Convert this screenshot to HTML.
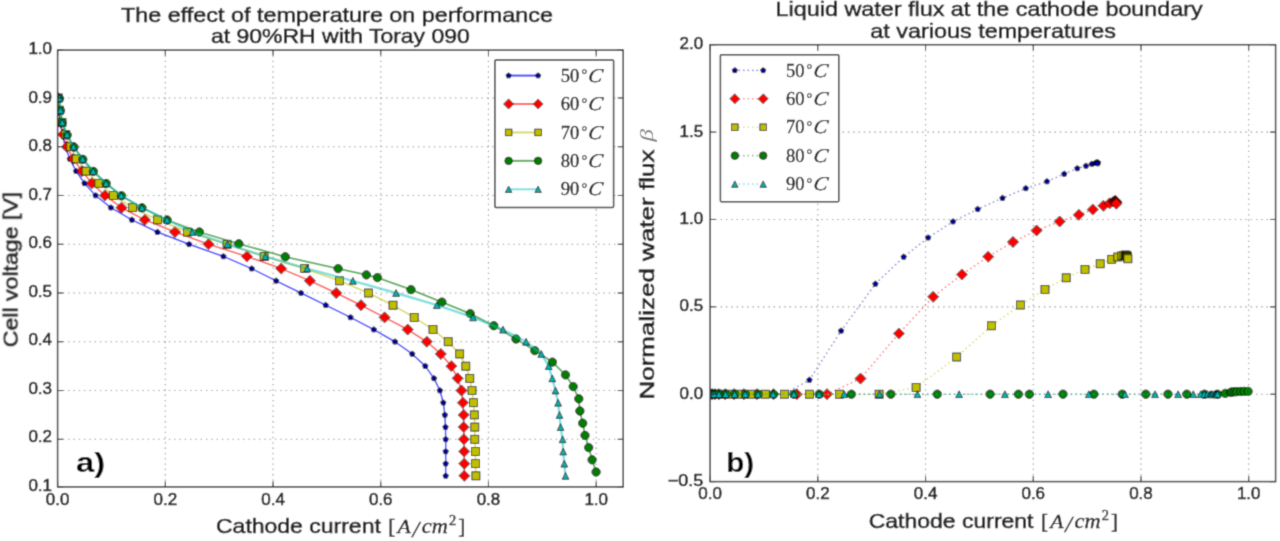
<!DOCTYPE html>
<html><head><meta charset="utf-8"><title>chart</title>
<style>
html,body{margin:0;padding:0;background:#fff;}
body{width:1280px;height:541px;overflow:hidden;}
svg{display:block;}
</style></head><body>
<svg width="1280" height="541" viewBox="0 0 1280 541">
<defs><filter id="bl" x="0" y="0" width="1280" height="541" filterUnits="userSpaceOnUse"><feConvolveMatrix order="3" kernelMatrix="0.02768 0.11101 0.02768 0.11101 0.44521 0.11101 0.02768 0.11101 0.02768" divisor="1" edgeMode="duplicate"/></filter></defs>
<g filter="url(#bl)">
<rect width="1280" height="541" fill="#fff"/>
<defs><clipPath id="cl"><rect x="57.6" y="50.1" width="565.6" height="436.8"/></clipPath><clipPath id="cr"><rect x="710.1" y="44.7" width="565.5" height="436.9"/></clipPath></defs>
<g stroke="#8a8a8a" stroke-width="1.1" stroke-dasharray="1.3 4.0"><line x1="165.32" y1="50.1" x2="165.32" y2="486.9"/><line x1="273.04" y1="50.1" x2="273.04" y2="486.9"/><line x1="380.76" y1="50.1" x2="380.76" y2="486.9"/><line x1="488.48" y1="50.1" x2="488.48" y2="486.9"/><line x1="596.2" y1="50.1" x2="596.2" y2="486.9"/><line x1="57.6" y1="439.28" x2="623.2" y2="439.28"/><line x1="57.6" y1="390.52" x2="623.2" y2="390.52"/><line x1="57.6" y1="341.76" x2="623.2" y2="341.76"/><line x1="57.6" y1="293" x2="623.2" y2="293"/><line x1="57.6" y1="244.24" x2="623.2" y2="244.24"/><line x1="57.6" y1="195.48" x2="623.2" y2="195.48"/><line x1="57.6" y1="146.72" x2="623.2" y2="146.72"/><line x1="57.6" y1="97.96" x2="623.2" y2="97.96"/></g>
<g clip-path="url(#cl)">
<polyline points="58,97.96 58.8,110.15 60.2,122.34 62.3,134.53 65.3,146.72 69.8,158.91 76.1,171.1 84.5,183.29 95.6,195.48 110.9,207.67 131.9,219.86 157.4,232.05 189.1,244.24 223.4,256.43 251.7,268.62 276.1,280.81 301,293 325.7,305.19 350.5,317.38 373.8,329.57 395,341.76 412.2,353.95 425.3,366.14 434,378.33 439.9,390.52 443.3,402.71 444.9,414.9 445.5,427.09 445.7,439.28 445.7,451.47 445.7,463.66 445.7,475.85" fill="none" stroke="#0000ff" stroke-opacity="0.75" stroke-width="1.5" stroke-linejoin="round"/>
<polygon points="58,95.06 60.76,97.06 59.7,100.31 56.3,100.31 55.24,97.06" fill="#0000a0" stroke="#000" stroke-width="0.75"/><polygon points="58.8,107.25 61.56,109.25 60.5,112.5 57.1,112.5 56.04,109.25" fill="#0000a0" stroke="#000" stroke-width="0.75"/><polygon points="60.2,119.44 62.96,121.44 61.9,124.69 58.5,124.69 57.44,121.44" fill="#0000a0" stroke="#000" stroke-width="0.75"/><polygon points="62.3,131.63 65.06,133.63 64,136.88 60.6,136.88 59.54,133.63" fill="#0000a0" stroke="#000" stroke-width="0.75"/><polygon points="65.3,143.82 68.06,145.82 67,149.07 63.6,149.07 62.54,145.82" fill="#0000a0" stroke="#000" stroke-width="0.75"/><polygon points="69.8,156.01 72.56,158.01 71.5,161.26 68.1,161.26 67.04,158.01" fill="#0000a0" stroke="#000" stroke-width="0.75"/><polygon points="76.1,168.2 78.86,170.2 77.8,173.45 74.4,173.45 73.34,170.2" fill="#0000a0" stroke="#000" stroke-width="0.75"/><polygon points="84.5,180.39 87.26,182.39 86.2,185.64 82.8,185.64 81.74,182.39" fill="#0000a0" stroke="#000" stroke-width="0.75"/><polygon points="95.6,192.58 98.36,194.58 97.3,197.83 93.9,197.83 92.84,194.58" fill="#0000a0" stroke="#000" stroke-width="0.75"/><polygon points="110.9,204.77 113.66,206.77 112.6,210.02 109.2,210.02 108.14,206.77" fill="#0000a0" stroke="#000" stroke-width="0.75"/><polygon points="131.9,216.96 134.66,218.96 133.6,222.21 130.2,222.21 129.14,218.96" fill="#0000a0" stroke="#000" stroke-width="0.75"/><polygon points="157.4,229.15 160.16,231.15 159.1,234.4 155.7,234.4 154.64,231.15" fill="#0000a0" stroke="#000" stroke-width="0.75"/><polygon points="189.1,241.34 191.86,243.34 190.8,246.59 187.4,246.59 186.34,243.34" fill="#0000a0" stroke="#000" stroke-width="0.75"/><polygon points="223.4,253.53 226.16,255.53 225.1,258.78 221.7,258.78 220.64,255.53" fill="#0000a0" stroke="#000" stroke-width="0.75"/><polygon points="251.7,265.72 254.46,267.72 253.4,270.97 250,270.97 248.94,267.72" fill="#0000a0" stroke="#000" stroke-width="0.75"/><polygon points="276.1,277.91 278.86,279.91 277.8,283.16 274.4,283.16 273.34,279.91" fill="#0000a0" stroke="#000" stroke-width="0.75"/><polygon points="301,290.1 303.76,292.1 302.7,295.35 299.3,295.35 298.24,292.1" fill="#0000a0" stroke="#000" stroke-width="0.75"/><polygon points="325.7,302.29 328.46,304.29 327.4,307.54 324,307.54 322.94,304.29" fill="#0000a0" stroke="#000" stroke-width="0.75"/><polygon points="350.5,314.48 353.26,316.48 352.2,319.73 348.8,319.73 347.74,316.48" fill="#0000a0" stroke="#000" stroke-width="0.75"/><polygon points="373.8,326.67 376.56,328.67 375.5,331.92 372.1,331.92 371.04,328.67" fill="#0000a0" stroke="#000" stroke-width="0.75"/><polygon points="395,338.86 397.76,340.86 396.7,344.11 393.3,344.11 392.24,340.86" fill="#0000a0" stroke="#000" stroke-width="0.75"/><polygon points="412.2,351.05 414.96,353.05 413.9,356.3 410.5,356.3 409.44,353.05" fill="#0000a0" stroke="#000" stroke-width="0.75"/><polygon points="425.3,363.24 428.06,365.24 427,368.49 423.6,368.49 422.54,365.24" fill="#0000a0" stroke="#000" stroke-width="0.75"/><polygon points="434,375.43 436.76,377.43 435.7,380.68 432.3,380.68 431.24,377.43" fill="#0000a0" stroke="#000" stroke-width="0.75"/><polygon points="439.9,387.62 442.66,389.62 441.6,392.87 438.2,392.87 437.14,389.62" fill="#0000a0" stroke="#000" stroke-width="0.75"/><polygon points="443.3,399.81 446.06,401.81 445,405.06 441.6,405.06 440.54,401.81" fill="#0000a0" stroke="#000" stroke-width="0.75"/><polygon points="444.9,412 447.66,414 446.6,417.25 443.2,417.25 442.14,414" fill="#0000a0" stroke="#000" stroke-width="0.75"/><polygon points="445.5,424.19 448.26,426.19 447.2,429.44 443.8,429.44 442.74,426.19" fill="#0000a0" stroke="#000" stroke-width="0.75"/><polygon points="445.7,436.38 448.46,438.38 447.4,441.63 444,441.63 442.94,438.38" fill="#0000a0" stroke="#000" stroke-width="0.75"/><polygon points="445.7,448.57 448.46,450.57 447.4,453.82 444,453.82 442.94,450.57" fill="#0000a0" stroke="#000" stroke-width="0.75"/><polygon points="445.7,460.76 448.46,462.76 447.4,466.01 444,466.01 442.94,462.76" fill="#0000a0" stroke="#000" stroke-width="0.75"/><polygon points="445.7,472.95 448.46,474.95 447.4,478.2 444,478.2 442.94,474.95" fill="#0000a0" stroke="#000" stroke-width="0.75"/>
<polyline points="58,97.96 58.8,110.15 60.5,122.34 63,134.53 66.8,146.72 73.2,158.91 82,171.1 91.8,183.29 104.9,195.48 121.5,207.67 144.8,219.86 175,232.05 208.5,244.24 246.9,256.43 281.2,268.62 309.9,280.81 336.2,293 361,305.19 384.6,317.38 407.7,329.57 426.8,341.76 440.8,353.95 451.4,366.14 457.7,378.33 461.5,390.52 462.9,402.71 463.7,414.9 463.7,427.09 463.9,439.28 464.2,451.47 464.3,463.66 464.3,475.85" fill="none" stroke="#ff0000" stroke-opacity="0.65" stroke-width="1.6" stroke-linejoin="round"/>
<polygon points="58,92.46 63.5,97.96 58,103.46 52.5,97.96" fill="#ff0000" stroke="#000" stroke-width="0.75"/><polygon points="58.8,104.65 64.3,110.15 58.8,115.65 53.3,110.15" fill="#ff0000" stroke="#000" stroke-width="0.75"/><polygon points="60.5,116.84 66,122.34 60.5,127.84 55,122.34" fill="#ff0000" stroke="#000" stroke-width="0.75"/><polygon points="63,129.03 68.5,134.53 63,140.03 57.5,134.53" fill="#ff0000" stroke="#000" stroke-width="0.75"/><polygon points="66.8,141.22 72.3,146.72 66.8,152.22 61.3,146.72" fill="#ff0000" stroke="#000" stroke-width="0.75"/><polygon points="73.2,153.41 78.7,158.91 73.2,164.41 67.7,158.91" fill="#ff0000" stroke="#000" stroke-width="0.75"/><polygon points="82,165.6 87.5,171.1 82,176.6 76.5,171.1" fill="#ff0000" stroke="#000" stroke-width="0.75"/><polygon points="91.8,177.79 97.3,183.29 91.8,188.79 86.3,183.29" fill="#ff0000" stroke="#000" stroke-width="0.75"/><polygon points="104.9,189.98 110.4,195.48 104.9,200.98 99.4,195.48" fill="#ff0000" stroke="#000" stroke-width="0.75"/><polygon points="121.5,202.17 127,207.67 121.5,213.17 116,207.67" fill="#ff0000" stroke="#000" stroke-width="0.75"/><polygon points="144.8,214.36 150.3,219.86 144.8,225.36 139.3,219.86" fill="#ff0000" stroke="#000" stroke-width="0.75"/><polygon points="175,226.55 180.5,232.05 175,237.55 169.5,232.05" fill="#ff0000" stroke="#000" stroke-width="0.75"/><polygon points="208.5,238.74 214,244.24 208.5,249.74 203,244.24" fill="#ff0000" stroke="#000" stroke-width="0.75"/><polygon points="246.9,250.93 252.4,256.43 246.9,261.93 241.4,256.43" fill="#ff0000" stroke="#000" stroke-width="0.75"/><polygon points="281.2,263.12 286.7,268.62 281.2,274.12 275.7,268.62" fill="#ff0000" stroke="#000" stroke-width="0.75"/><polygon points="309.9,275.31 315.4,280.81 309.9,286.31 304.4,280.81" fill="#ff0000" stroke="#000" stroke-width="0.75"/><polygon points="336.2,287.5 341.7,293 336.2,298.5 330.7,293" fill="#ff0000" stroke="#000" stroke-width="0.75"/><polygon points="361,299.69 366.5,305.19 361,310.69 355.5,305.19" fill="#ff0000" stroke="#000" stroke-width="0.75"/><polygon points="384.6,311.88 390.1,317.38 384.6,322.88 379.1,317.38" fill="#ff0000" stroke="#000" stroke-width="0.75"/><polygon points="407.7,324.07 413.2,329.57 407.7,335.07 402.2,329.57" fill="#ff0000" stroke="#000" stroke-width="0.75"/><polygon points="426.8,336.26 432.3,341.76 426.8,347.26 421.3,341.76" fill="#ff0000" stroke="#000" stroke-width="0.75"/><polygon points="440.8,348.45 446.3,353.95 440.8,359.45 435.3,353.95" fill="#ff0000" stroke="#000" stroke-width="0.75"/><polygon points="451.4,360.64 456.9,366.14 451.4,371.64 445.9,366.14" fill="#ff0000" stroke="#000" stroke-width="0.75"/><polygon points="457.7,372.83 463.2,378.33 457.7,383.83 452.2,378.33" fill="#ff0000" stroke="#000" stroke-width="0.75"/><polygon points="461.5,385.02 467,390.52 461.5,396.02 456,390.52" fill="#ff0000" stroke="#000" stroke-width="0.75"/><polygon points="462.9,397.21 468.4,402.71 462.9,408.21 457.4,402.71" fill="#ff0000" stroke="#000" stroke-width="0.75"/><polygon points="463.7,409.4 469.2,414.9 463.7,420.4 458.2,414.9" fill="#ff0000" stroke="#000" stroke-width="0.75"/><polygon points="463.7,421.59 469.2,427.09 463.7,432.59 458.2,427.09" fill="#ff0000" stroke="#000" stroke-width="0.75"/><polygon points="463.9,433.78 469.4,439.28 463.9,444.78 458.4,439.28" fill="#ff0000" stroke="#000" stroke-width="0.75"/><polygon points="464.2,445.97 469.7,451.47 464.2,456.97 458.7,451.47" fill="#ff0000" stroke="#000" stroke-width="0.75"/><polygon points="464.3,458.16 469.8,463.66 464.3,469.16 458.8,463.66" fill="#ff0000" stroke="#000" stroke-width="0.75"/><polygon points="464.3,470.35 469.8,475.85 464.3,481.35 458.8,475.85" fill="#ff0000" stroke="#000" stroke-width="0.75"/>
<polyline points="58.3,97.96 59.5,110.15 62,122.34 65.8,134.53 70.8,146.72 76.6,158.91 86.1,171.1 98.9,183.29 113.3,195.48 132.6,207.67 157.4,219.86 187.6,232.05 227.1,244.24 264.1,256.43 304.7,268.62 339.5,280.81 368.4,293 393,305.19 414.2,317.38 433,329.57 448.2,341.76 459.7,353.95 465.8,366.14 469.8,378.33 472,390.52 473.4,402.71 474.3,414.9 474.8,427.09 474.8,439.28 475.4,451.47 475.4,463.66 475.9,475.85" fill="none" stroke="#bfbf00" stroke-opacity="0.6" stroke-width="1.6" stroke-linejoin="round"/>
<rect x="54.3" y="93.96" width="8" height="8" fill="#bfbf00" stroke="#000" stroke-width="0.75"/><rect x="55.5" y="106.15" width="8" height="8" fill="#bfbf00" stroke="#000" stroke-width="0.75"/><rect x="58" y="118.34" width="8" height="8" fill="#bfbf00" stroke="#000" stroke-width="0.75"/><rect x="61.8" y="130.53" width="8" height="8" fill="#bfbf00" stroke="#000" stroke-width="0.75"/><rect x="66.8" y="142.72" width="8" height="8" fill="#bfbf00" stroke="#000" stroke-width="0.75"/><rect x="72.6" y="154.91" width="8" height="8" fill="#bfbf00" stroke="#000" stroke-width="0.75"/><rect x="82.1" y="167.1" width="8" height="8" fill="#bfbf00" stroke="#000" stroke-width="0.75"/><rect x="94.9" y="179.29" width="8" height="8" fill="#bfbf00" stroke="#000" stroke-width="0.75"/><rect x="109.3" y="191.48" width="8" height="8" fill="#bfbf00" stroke="#000" stroke-width="0.75"/><rect x="128.6" y="203.67" width="8" height="8" fill="#bfbf00" stroke="#000" stroke-width="0.75"/><rect x="153.4" y="215.86" width="8" height="8" fill="#bfbf00" stroke="#000" stroke-width="0.75"/><rect x="183.6" y="228.05" width="8" height="8" fill="#bfbf00" stroke="#000" stroke-width="0.75"/><rect x="223.1" y="240.24" width="8" height="8" fill="#bfbf00" stroke="#000" stroke-width="0.75"/><rect x="260.1" y="252.43" width="8" height="8" fill="#bfbf00" stroke="#000" stroke-width="0.75"/><rect x="300.7" y="264.62" width="8" height="8" fill="#bfbf00" stroke="#000" stroke-width="0.75"/><rect x="335.5" y="276.81" width="8" height="8" fill="#bfbf00" stroke="#000" stroke-width="0.75"/><rect x="364.4" y="289" width="8" height="8" fill="#bfbf00" stroke="#000" stroke-width="0.75"/><rect x="389" y="301.19" width="8" height="8" fill="#bfbf00" stroke="#000" stroke-width="0.75"/><rect x="410.2" y="313.38" width="8" height="8" fill="#bfbf00" stroke="#000" stroke-width="0.75"/><rect x="429" y="325.57" width="8" height="8" fill="#bfbf00" stroke="#000" stroke-width="0.75"/><rect x="444.2" y="337.76" width="8" height="8" fill="#bfbf00" stroke="#000" stroke-width="0.75"/><rect x="455.7" y="349.95" width="8" height="8" fill="#bfbf00" stroke="#000" stroke-width="0.75"/><rect x="461.8" y="362.14" width="8" height="8" fill="#bfbf00" stroke="#000" stroke-width="0.75"/><rect x="465.8" y="374.33" width="8" height="8" fill="#bfbf00" stroke="#000" stroke-width="0.75"/><rect x="468" y="386.52" width="8" height="8" fill="#bfbf00" stroke="#000" stroke-width="0.75"/><rect x="469.4" y="398.71" width="8" height="8" fill="#bfbf00" stroke="#000" stroke-width="0.75"/><rect x="470.3" y="410.9" width="8" height="8" fill="#bfbf00" stroke="#000" stroke-width="0.75"/><rect x="470.8" y="423.09" width="8" height="8" fill="#bfbf00" stroke="#000" stroke-width="0.75"/><rect x="470.8" y="435.28" width="8" height="8" fill="#bfbf00" stroke="#000" stroke-width="0.75"/><rect x="471.4" y="447.47" width="8" height="8" fill="#bfbf00" stroke="#000" stroke-width="0.75"/><rect x="471.4" y="459.66" width="8" height="8" fill="#bfbf00" stroke="#000" stroke-width="0.75"/><rect x="471.9" y="471.85" width="8" height="8" fill="#bfbf00" stroke="#000" stroke-width="0.75"/>
<polyline points="59.5,98.6 60.5,110.7 62.2,122.8 67.2,135 74,147.1 82.8,159.3 93.4,171.4 106.2,183.5 121.5,195.7 142,207.8 167.2,220 199.4,232 238.8,243.8 285.3,256.8 338.1,268.6 366.4,274.9 377.4,277.6 411,289.6 441.9,302.1 470.2,313.6 493.8,325.7 516,339 534.8,350.6 552.4,362.1 565.5,374.9 573.2,386.6 578.8,398.8 579.9,411 582.7,423.2 585,435.4 588.7,447.6 592.1,459.8 596.1,472" fill="none" stroke="#008000" stroke-opacity="0.65" stroke-width="1.8" stroke-linejoin="round"/>
<circle cx="59.5" cy="98.6" r="4.2" fill="#008000" stroke="#000" stroke-width="0.75"/><circle cx="60.5" cy="110.7" r="4.2" fill="#008000" stroke="#000" stroke-width="0.75"/><circle cx="62.2" cy="122.8" r="4.2" fill="#008000" stroke="#000" stroke-width="0.75"/><circle cx="67.2" cy="135" r="4.2" fill="#008000" stroke="#000" stroke-width="0.75"/><circle cx="74" cy="147.1" r="4.2" fill="#008000" stroke="#000" stroke-width="0.75"/><circle cx="82.8" cy="159.3" r="4.2" fill="#008000" stroke="#000" stroke-width="0.75"/><circle cx="93.4" cy="171.4" r="4.2" fill="#008000" stroke="#000" stroke-width="0.75"/><circle cx="106.2" cy="183.5" r="4.2" fill="#008000" stroke="#000" stroke-width="0.75"/><circle cx="121.5" cy="195.7" r="4.2" fill="#008000" stroke="#000" stroke-width="0.75"/><circle cx="142" cy="207.8" r="4.2" fill="#008000" stroke="#000" stroke-width="0.75"/><circle cx="167.2" cy="220" r="4.2" fill="#008000" stroke="#000" stroke-width="0.75"/><circle cx="199.4" cy="232" r="4.2" fill="#008000" stroke="#000" stroke-width="0.75"/><circle cx="238.8" cy="243.8" r="4.2" fill="#008000" stroke="#000" stroke-width="0.75"/><circle cx="285.3" cy="256.8" r="4.2" fill="#008000" stroke="#000" stroke-width="0.75"/><circle cx="338.1" cy="268.6" r="4.2" fill="#008000" stroke="#000" stroke-width="0.75"/><circle cx="366.4" cy="274.9" r="4.2" fill="#008000" stroke="#000" stroke-width="0.75"/><circle cx="377.4" cy="277.6" r="4.2" fill="#008000" stroke="#000" stroke-width="0.75"/><circle cx="411" cy="289.6" r="4.2" fill="#008000" stroke="#000" stroke-width="0.75"/><circle cx="441.9" cy="302.1" r="4.2" fill="#008000" stroke="#000" stroke-width="0.75"/><circle cx="470.2" cy="313.6" r="4.2" fill="#008000" stroke="#000" stroke-width="0.75"/><circle cx="493.8" cy="325.7" r="4.2" fill="#008000" stroke="#000" stroke-width="0.75"/><circle cx="516" cy="339" r="4.2" fill="#008000" stroke="#000" stroke-width="0.75"/><circle cx="534.8" cy="350.6" r="4.2" fill="#008000" stroke="#000" stroke-width="0.75"/><circle cx="552.4" cy="362.1" r="4.2" fill="#008000" stroke="#000" stroke-width="0.75"/><circle cx="565.5" cy="374.9" r="4.2" fill="#008000" stroke="#000" stroke-width="0.75"/><circle cx="573.2" cy="386.6" r="4.2" fill="#008000" stroke="#000" stroke-width="0.75"/><circle cx="578.8" cy="398.8" r="4.2" fill="#008000" stroke="#000" stroke-width="0.75"/><circle cx="579.9" cy="411" r="4.2" fill="#008000" stroke="#000" stroke-width="0.75"/><circle cx="582.7" cy="423.2" r="4.2" fill="#008000" stroke="#000" stroke-width="0.75"/><circle cx="585" cy="435.4" r="4.2" fill="#008000" stroke="#000" stroke-width="0.75"/><circle cx="588.7" cy="447.6" r="4.2" fill="#008000" stroke="#000" stroke-width="0.75"/><circle cx="592.1" cy="459.8" r="4.2" fill="#008000" stroke="#000" stroke-width="0.75"/><circle cx="596.1" cy="472" r="4.2" fill="#008000" stroke="#000" stroke-width="0.75"/>
<polyline points="59.5,97.96 60.5,110.15 62.2,122.34 67,134.53 73.6,146.72 82.6,158.91 93.2,171.1 106,183.29 121.1,195.48 141.9,207.67 167,219.86 192.3,232.05 227.5,244.24 265.4,256.43 307.1,268.62 352.9,280.81 396.1,293 436.8,305.19 473,317.38 503,329.57 526.1,341.76 541.3,353.95 548.7,366.14 552.3,378.33 555.5,390.52 558.1,402.71 559.5,414.9 560.6,427.09 562.6,439.28 563.2,451.47 564.3,463.66 565.5,475.85" fill="none" stroke="#00bfbf" stroke-opacity="0.5" stroke-width="2.4" stroke-linejoin="round"/>
<polygon points="59.5,94.56 62.9,101.36 56.1,101.36" fill="#00b4b4" stroke="#000" stroke-width="0.75"/><polygon points="60.5,106.75 63.9,113.55 57.1,113.55" fill="#00b4b4" stroke="#000" stroke-width="0.75"/><polygon points="62.2,118.94 65.6,125.74 58.8,125.74" fill="#00b4b4" stroke="#000" stroke-width="0.75"/><polygon points="67,131.13 70.4,137.93 63.6,137.93" fill="#00b4b4" stroke="#000" stroke-width="0.75"/><polygon points="73.6,143.32 77,150.12 70.2,150.12" fill="#00b4b4" stroke="#000" stroke-width="0.75"/><polygon points="82.6,155.51 86,162.31 79.2,162.31" fill="#00b4b4" stroke="#000" stroke-width="0.75"/><polygon points="93.2,167.7 96.6,174.5 89.8,174.5" fill="#00b4b4" stroke="#000" stroke-width="0.75"/><polygon points="106,179.89 109.4,186.69 102.6,186.69" fill="#00b4b4" stroke="#000" stroke-width="0.75"/><polygon points="121.1,192.08 124.5,198.88 117.7,198.88" fill="#00b4b4" stroke="#000" stroke-width="0.75"/><polygon points="141.9,204.27 145.3,211.07 138.5,211.07" fill="#00b4b4" stroke="#000" stroke-width="0.75"/><polygon points="167,216.46 170.4,223.26 163.6,223.26" fill="#00b4b4" stroke="#000" stroke-width="0.75"/><polygon points="192.3,228.65 195.7,235.45 188.9,235.45" fill="#00b4b4" stroke="#000" stroke-width="0.75"/><polygon points="227.5,240.84 230.9,247.64 224.1,247.64" fill="#00b4b4" stroke="#000" stroke-width="0.75"/><polygon points="265.4,253.03 268.8,259.83 262,259.83" fill="#00b4b4" stroke="#000" stroke-width="0.75"/><polygon points="307.1,265.22 310.5,272.02 303.7,272.02" fill="#00b4b4" stroke="#000" stroke-width="0.75"/><polygon points="352.9,277.41 356.3,284.21 349.5,284.21" fill="#00b4b4" stroke="#000" stroke-width="0.75"/><polygon points="396.1,289.6 399.5,296.4 392.7,296.4" fill="#00b4b4" stroke="#000" stroke-width="0.75"/><polygon points="436.8,301.79 440.2,308.59 433.4,308.59" fill="#00b4b4" stroke="#000" stroke-width="0.75"/><polygon points="473,313.98 476.4,320.78 469.6,320.78" fill="#00b4b4" stroke="#000" stroke-width="0.75"/><polygon points="503,326.17 506.4,332.97 499.6,332.97" fill="#00b4b4" stroke="#000" stroke-width="0.75"/><polygon points="526.1,338.36 529.5,345.16 522.7,345.16" fill="#00b4b4" stroke="#000" stroke-width="0.75"/><polygon points="541.3,350.55 544.7,357.35 537.9,357.35" fill="#00b4b4" stroke="#000" stroke-width="0.75"/><polygon points="548.7,362.74 552.1,369.54 545.3,369.54" fill="#00b4b4" stroke="#000" stroke-width="0.75"/><polygon points="552.3,374.93 555.7,381.73 548.9,381.73" fill="#00b4b4" stroke="#000" stroke-width="0.75"/><polygon points="555.5,387.12 558.9,393.92 552.1,393.92" fill="#00b4b4" stroke="#000" stroke-width="0.75"/><polygon points="558.1,399.31 561.5,406.11 554.7,406.11" fill="#00b4b4" stroke="#000" stroke-width="0.75"/><polygon points="559.5,411.5 562.9,418.3 556.1,418.3" fill="#00b4b4" stroke="#000" stroke-width="0.75"/><polygon points="560.6,423.69 564,430.49 557.2,430.49" fill="#00b4b4" stroke="#000" stroke-width="0.75"/><polygon points="562.6,435.88 566,442.68 559.2,442.68" fill="#00b4b4" stroke="#000" stroke-width="0.75"/><polygon points="563.2,448.07 566.6,454.87 559.8,454.87" fill="#00b4b4" stroke="#000" stroke-width="0.75"/><polygon points="564.3,460.26 567.7,467.06 560.9,467.06" fill="#00b4b4" stroke="#000" stroke-width="0.75"/><polygon points="565.5,472.45 568.9,479.25 562.1,479.25" fill="#00b4b4" stroke="#000" stroke-width="0.75"/>
</g>
<g stroke="#222" stroke-width="1.1"><line x1="57.6" y1="486.9" x2="57.6" y2="481.4"/><line x1="57.6" y1="50.1" x2="57.6" y2="55.6"/><line x1="165.32" y1="486.9" x2="165.32" y2="481.4"/><line x1="165.32" y1="50.1" x2="165.32" y2="55.6"/><line x1="273.04" y1="486.9" x2="273.04" y2="481.4"/><line x1="273.04" y1="50.1" x2="273.04" y2="55.6"/><line x1="380.76" y1="486.9" x2="380.76" y2="481.4"/><line x1="380.76" y1="50.1" x2="380.76" y2="55.6"/><line x1="488.48" y1="486.9" x2="488.48" y2="481.4"/><line x1="488.48" y1="50.1" x2="488.48" y2="55.6"/><line x1="596.2" y1="486.9" x2="596.2" y2="481.4"/><line x1="596.2" y1="50.1" x2="596.2" y2="55.6"/><line x1="57.6" y1="486.9" x2="63.1" y2="486.9"/><line x1="623.2" y1="486.9" x2="617.7" y2="486.9"/><line x1="57.6" y1="439.28" x2="63.1" y2="439.28"/><line x1="623.2" y1="439.28" x2="617.7" y2="439.28"/><line x1="57.6" y1="390.52" x2="63.1" y2="390.52"/><line x1="623.2" y1="390.52" x2="617.7" y2="390.52"/><line x1="57.6" y1="341.76" x2="63.1" y2="341.76"/><line x1="623.2" y1="341.76" x2="617.7" y2="341.76"/><line x1="57.6" y1="293" x2="63.1" y2="293"/><line x1="623.2" y1="293" x2="617.7" y2="293"/><line x1="57.6" y1="244.24" x2="63.1" y2="244.24"/><line x1="623.2" y1="244.24" x2="617.7" y2="244.24"/><line x1="57.6" y1="195.48" x2="63.1" y2="195.48"/><line x1="623.2" y1="195.48" x2="617.7" y2="195.48"/><line x1="57.6" y1="146.72" x2="63.1" y2="146.72"/><line x1="623.2" y1="146.72" x2="617.7" y2="146.72"/><line x1="57.6" y1="97.96" x2="63.1" y2="97.96"/><line x1="623.2" y1="97.96" x2="617.7" y2="97.96"/><line x1="57.6" y1="50.1" x2="63.1" y2="50.1"/><line x1="623.2" y1="50.1" x2="617.7" y2="50.1"/></g>
<rect x="57.6" y="50.1" width="565.6" height="436.8" fill="none" stroke="#333" stroke-width="1.5"/>
<g stroke="#8a8a8a" stroke-width="1.1" stroke-dasharray="1.3 4.0"><line x1="817.82" y1="44.7" x2="817.82" y2="481.6"/><line x1="925.54" y1="44.7" x2="925.54" y2="481.6"/><line x1="1033.26" y1="44.7" x2="1033.26" y2="481.6"/><line x1="1140.98" y1="44.7" x2="1140.98" y2="481.6"/><line x1="1248.7" y1="44.7" x2="1248.7" y2="481.6"/><line x1="710.1" y1="394.22" x2="1275.6" y2="394.22"/><line x1="710.1" y1="306.84" x2="1275.6" y2="306.84"/><line x1="710.1" y1="219.46" x2="1275.6" y2="219.46"/><line x1="710.1" y1="132.08" x2="1275.6" y2="132.08"/></g>
<g clip-path="url(#cr)">
<polyline points="710,394.2 710.8,394.2 712.2,394.2 714.3,394.2 717.3,394.2 721.8,394.2 728.1,394.2 736.5,394.2 747.6,394.2 762.9,394.2 783.9,394.2 809.4,380 841.1,330.8 875.4,283.9 903.7,256.9 928.1,237.7 953,221.6 977.7,209.2 1002.5,198.1 1025.8,188.3 1047,181.5 1064.2,173.9 1077.3,168.4 1086,165.9 1091.9,164 1095.3,163 1096.9,162.6 1097.5,162.5 1097.7,162.6 1097.7,162.8 1097.7,163.1 1097.7,163.5" fill="none" stroke="#2828b0" stroke-opacity="0.6" stroke-width="1.6" stroke-linejoin="round" stroke-dasharray="0.1 4.4" stroke-linecap="round"/>
<polygon points="710,391.3 712.76,393.3 711.7,396.55 708.3,396.55 707.24,393.3" fill="#0000a0" stroke="#000" stroke-width="0.75"/><polygon points="710.8,391.3 713.56,393.3 712.5,396.55 709.1,396.55 708.04,393.3" fill="#0000a0" stroke="#000" stroke-width="0.75"/><polygon points="712.2,391.3 714.96,393.3 713.9,396.55 710.5,396.55 709.44,393.3" fill="#0000a0" stroke="#000" stroke-width="0.75"/><polygon points="714.3,391.3 717.06,393.3 716,396.55 712.6,396.55 711.54,393.3" fill="#0000a0" stroke="#000" stroke-width="0.75"/><polygon points="717.3,391.3 720.06,393.3 719,396.55 715.6,396.55 714.54,393.3" fill="#0000a0" stroke="#000" stroke-width="0.75"/><polygon points="721.8,391.3 724.56,393.3 723.5,396.55 720.1,396.55 719.04,393.3" fill="#0000a0" stroke="#000" stroke-width="0.75"/><polygon points="728.1,391.3 730.86,393.3 729.8,396.55 726.4,396.55 725.34,393.3" fill="#0000a0" stroke="#000" stroke-width="0.75"/><polygon points="736.5,391.3 739.26,393.3 738.2,396.55 734.8,396.55 733.74,393.3" fill="#0000a0" stroke="#000" stroke-width="0.75"/><polygon points="747.6,391.3 750.36,393.3 749.3,396.55 745.9,396.55 744.84,393.3" fill="#0000a0" stroke="#000" stroke-width="0.75"/><polygon points="762.9,391.3 765.66,393.3 764.6,396.55 761.2,396.55 760.14,393.3" fill="#0000a0" stroke="#000" stroke-width="0.75"/><polygon points="783.9,391.3 786.66,393.3 785.6,396.55 782.2,396.55 781.14,393.3" fill="#0000a0" stroke="#000" stroke-width="0.75"/><polygon points="809.4,377.1 812.16,379.1 811.1,382.35 807.7,382.35 806.64,379.1" fill="#0000a0" stroke="#000" stroke-width="0.75"/><polygon points="841.1,327.9 843.86,329.9 842.8,333.15 839.4,333.15 838.34,329.9" fill="#0000a0" stroke="#000" stroke-width="0.75"/><polygon points="875.4,281 878.16,283 877.1,286.25 873.7,286.25 872.64,283" fill="#0000a0" stroke="#000" stroke-width="0.75"/><polygon points="903.7,254 906.46,256 905.4,259.25 902,259.25 900.94,256" fill="#0000a0" stroke="#000" stroke-width="0.75"/><polygon points="928.1,234.8 930.86,236.8 929.8,240.05 926.4,240.05 925.34,236.8" fill="#0000a0" stroke="#000" stroke-width="0.75"/><polygon points="953,218.7 955.76,220.7 954.7,223.95 951.3,223.95 950.24,220.7" fill="#0000a0" stroke="#000" stroke-width="0.75"/><polygon points="977.7,206.3 980.46,208.3 979.4,211.55 976,211.55 974.94,208.3" fill="#0000a0" stroke="#000" stroke-width="0.75"/><polygon points="1002.5,195.2 1005.26,197.2 1004.2,200.45 1000.8,200.45 999.74,197.2" fill="#0000a0" stroke="#000" stroke-width="0.75"/><polygon points="1025.8,185.4 1028.56,187.4 1027.5,190.65 1024.1,190.65 1023.04,187.4" fill="#0000a0" stroke="#000" stroke-width="0.75"/><polygon points="1047,178.6 1049.76,180.6 1048.7,183.85 1045.3,183.85 1044.24,180.6" fill="#0000a0" stroke="#000" stroke-width="0.75"/><polygon points="1064.2,171 1066.96,173 1065.9,176.25 1062.5,176.25 1061.44,173" fill="#0000a0" stroke="#000" stroke-width="0.75"/><polygon points="1077.3,165.5 1080.06,167.5 1079,170.75 1075.6,170.75 1074.54,167.5" fill="#0000a0" stroke="#000" stroke-width="0.75"/><polygon points="1086,163 1088.76,165 1087.7,168.25 1084.3,168.25 1083.24,165" fill="#0000a0" stroke="#000" stroke-width="0.75"/><polygon points="1091.9,161.1 1094.66,163.1 1093.6,166.35 1090.2,166.35 1089.14,163.1" fill="#0000a0" stroke="#000" stroke-width="0.75"/><polygon points="1095.3,160.1 1098.06,162.1 1097,165.35 1093.6,165.35 1092.54,162.1" fill="#0000a0" stroke="#000" stroke-width="0.75"/><polygon points="1096.9,159.7 1099.66,161.7 1098.6,164.95 1095.2,164.95 1094.14,161.7" fill="#0000a0" stroke="#000" stroke-width="0.75"/><polygon points="1097.5,159.6 1100.26,161.6 1099.2,164.85 1095.8,164.85 1094.74,161.6" fill="#0000a0" stroke="#000" stroke-width="0.75"/><polygon points="1097.7,159.7 1100.46,161.7 1099.4,164.95 1096,164.95 1094.94,161.7" fill="#0000a0" stroke="#000" stroke-width="0.75"/><polygon points="1097.7,159.9 1100.46,161.9 1099.4,165.15 1096,165.15 1094.94,161.9" fill="#0000a0" stroke="#000" stroke-width="0.75"/><polygon points="1097.7,160.2 1100.46,162.2 1099.4,165.45 1096,165.45 1094.94,162.2" fill="#0000a0" stroke="#000" stroke-width="0.75"/><polygon points="1097.7,160.6 1100.46,162.6 1099.4,165.85 1096,165.85 1094.94,162.6" fill="#0000a0" stroke="#000" stroke-width="0.75"/>
<polyline points="710,394.2 710.8,394.2 712.5,394.2 715,394.2 718.8,394.2 725.2,394.2 734,394.2 743.8,394.2 756.9,394.2 773.5,394.2 796.8,394.2 827,394.2 860.5,378.6 898.9,333.5 933.2,296.8 961.9,274.5 988.2,256.7 1013,242 1036.6,230.5 1059.7,221.5 1078.8,214.8 1092.8,209.5 1103.4,205.8 1109.7,203.3 1113.5,201.6 1114.9,201 1115.7,201 1115.7,201.3 1115.9,201.8 1116.2,202.4 1116.3,203 1116.3,203.7" fill="none" stroke="#ff0000" stroke-opacity="0.6" stroke-width="1.6" stroke-linejoin="round" stroke-dasharray="0.1 4.4" stroke-linecap="round"/>
<polygon points="710,388.7 715.5,394.2 710,399.7 704.5,394.2" fill="#ff0000" stroke="#000" stroke-width="0.75"/><polygon points="710.8,388.7 716.3,394.2 710.8,399.7 705.3,394.2" fill="#ff0000" stroke="#000" stroke-width="0.75"/><polygon points="712.5,388.7 718,394.2 712.5,399.7 707,394.2" fill="#ff0000" stroke="#000" stroke-width="0.75"/><polygon points="715,388.7 720.5,394.2 715,399.7 709.5,394.2" fill="#ff0000" stroke="#000" stroke-width="0.75"/><polygon points="718.8,388.7 724.3,394.2 718.8,399.7 713.3,394.2" fill="#ff0000" stroke="#000" stroke-width="0.75"/><polygon points="725.2,388.7 730.7,394.2 725.2,399.7 719.7,394.2" fill="#ff0000" stroke="#000" stroke-width="0.75"/><polygon points="734,388.7 739.5,394.2 734,399.7 728.5,394.2" fill="#ff0000" stroke="#000" stroke-width="0.75"/><polygon points="743.8,388.7 749.3,394.2 743.8,399.7 738.3,394.2" fill="#ff0000" stroke="#000" stroke-width="0.75"/><polygon points="756.9,388.7 762.4,394.2 756.9,399.7 751.4,394.2" fill="#ff0000" stroke="#000" stroke-width="0.75"/><polygon points="773.5,388.7 779,394.2 773.5,399.7 768,394.2" fill="#ff0000" stroke="#000" stroke-width="0.75"/><polygon points="796.8,388.7 802.3,394.2 796.8,399.7 791.3,394.2" fill="#ff0000" stroke="#000" stroke-width="0.75"/><polygon points="827,388.7 832.5,394.2 827,399.7 821.5,394.2" fill="#ff0000" stroke="#000" stroke-width="0.75"/><polygon points="860.5,373.1 866,378.6 860.5,384.1 855,378.6" fill="#ff0000" stroke="#000" stroke-width="0.75"/><polygon points="898.9,328 904.4,333.5 898.9,339 893.4,333.5" fill="#ff0000" stroke="#000" stroke-width="0.75"/><polygon points="933.2,291.3 938.7,296.8 933.2,302.3 927.7,296.8" fill="#ff0000" stroke="#000" stroke-width="0.75"/><polygon points="961.9,269 967.4,274.5 961.9,280 956.4,274.5" fill="#ff0000" stroke="#000" stroke-width="0.75"/><polygon points="988.2,251.2 993.7,256.7 988.2,262.2 982.7,256.7" fill="#ff0000" stroke="#000" stroke-width="0.75"/><polygon points="1013,236.5 1018.5,242 1013,247.5 1007.5,242" fill="#ff0000" stroke="#000" stroke-width="0.75"/><polygon points="1036.6,225 1042.1,230.5 1036.6,236 1031.1,230.5" fill="#ff0000" stroke="#000" stroke-width="0.75"/><polygon points="1059.7,216 1065.2,221.5 1059.7,227 1054.2,221.5" fill="#ff0000" stroke="#000" stroke-width="0.75"/><polygon points="1078.8,209.3 1084.3,214.8 1078.8,220.3 1073.3,214.8" fill="#ff0000" stroke="#000" stroke-width="0.75"/><polygon points="1092.8,204 1098.3,209.5 1092.8,215 1087.3,209.5" fill="#ff0000" stroke="#000" stroke-width="0.75"/><polygon points="1103.4,200.3 1108.9,205.8 1103.4,211.3 1097.9,205.8" fill="#ff0000" stroke="#000" stroke-width="0.75"/><polygon points="1109.7,197.8 1115.2,203.3 1109.7,208.8 1104.2,203.3" fill="#ff0000" stroke="#000" stroke-width="0.75"/><polygon points="1113.5,196.1 1119,201.6 1113.5,207.1 1108,201.6" fill="#ff0000" stroke="#000" stroke-width="0.75"/><polygon points="1114.9,195.5 1120.4,201 1114.9,206.5 1109.4,201" fill="#ff0000" stroke="#000" stroke-width="0.75"/><polygon points="1115.7,195.5 1121.2,201 1115.7,206.5 1110.2,201" fill="#ff0000" stroke="#000" stroke-width="0.75"/><polygon points="1115.7,195.8 1121.2,201.3 1115.7,206.8 1110.2,201.3" fill="#ff0000" stroke="#000" stroke-width="0.75"/><polygon points="1115.9,196.3 1121.4,201.8 1115.9,207.3 1110.4,201.8" fill="#ff0000" stroke="#000" stroke-width="0.75"/><polygon points="1116.2,196.9 1121.7,202.4 1116.2,207.9 1110.7,202.4" fill="#ff0000" stroke="#000" stroke-width="0.75"/><polygon points="1116.3,197.5 1121.8,203 1116.3,208.5 1110.8,203" fill="#ff0000" stroke="#000" stroke-width="0.75"/><polygon points="1116.3,198.2 1121.8,203.7 1116.3,209.2 1110.8,203.7" fill="#ff0000" stroke="#000" stroke-width="0.75"/>
<polyline points="710.3,394.2 711.5,394.2 714,394.2 717.8,394.2 722.8,394.2 728.6,394.2 738.1,394.2 750.9,394.2 765.3,394.2 784.6,394.2 809.4,394.2 839.6,394.2 879.1,394.2 916.1,387.5 956.7,357 991.5,325.8 1020.4,305 1045,289.5 1066.2,277.8 1085,269.4 1100.2,263.8 1111.7,259.3 1117.8,257 1121.8,255.9 1124,255.3 1125.4,255.1 1126.3,255.2 1126.8,255.5 1126.8,256 1127.4,256.7 1127.4,257.6 1127.9,258.8" fill="none" stroke="#bfbf00" stroke-opacity="0.6" stroke-width="1.6" stroke-linejoin="round" stroke-dasharray="0.1 4.4" stroke-linecap="round"/>
<rect x="706.3" y="390.2" width="8" height="8" fill="#bfbf00" stroke="#000" stroke-width="0.75"/><rect x="707.5" y="390.2" width="8" height="8" fill="#bfbf00" stroke="#000" stroke-width="0.75"/><rect x="710" y="390.2" width="8" height="8" fill="#bfbf00" stroke="#000" stroke-width="0.75"/><rect x="713.8" y="390.2" width="8" height="8" fill="#bfbf00" stroke="#000" stroke-width="0.75"/><rect x="718.8" y="390.2" width="8" height="8" fill="#bfbf00" stroke="#000" stroke-width="0.75"/><rect x="724.6" y="390.2" width="8" height="8" fill="#bfbf00" stroke="#000" stroke-width="0.75"/><rect x="734.1" y="390.2" width="8" height="8" fill="#bfbf00" stroke="#000" stroke-width="0.75"/><rect x="746.9" y="390.2" width="8" height="8" fill="#bfbf00" stroke="#000" stroke-width="0.75"/><rect x="761.3" y="390.2" width="8" height="8" fill="#bfbf00" stroke="#000" stroke-width="0.75"/><rect x="780.6" y="390.2" width="8" height="8" fill="#bfbf00" stroke="#000" stroke-width="0.75"/><rect x="805.4" y="390.2" width="8" height="8" fill="#bfbf00" stroke="#000" stroke-width="0.75"/><rect x="835.6" y="390.2" width="8" height="8" fill="#bfbf00" stroke="#000" stroke-width="0.75"/><rect x="875.1" y="390.2" width="8" height="8" fill="#bfbf00" stroke="#000" stroke-width="0.75"/><rect x="912.1" y="383.5" width="8" height="8" fill="#bfbf00" stroke="#000" stroke-width="0.75"/><rect x="952.7" y="353" width="8" height="8" fill="#bfbf00" stroke="#000" stroke-width="0.75"/><rect x="987.5" y="321.8" width="8" height="8" fill="#bfbf00" stroke="#000" stroke-width="0.75"/><rect x="1016.4" y="301" width="8" height="8" fill="#bfbf00" stroke="#000" stroke-width="0.75"/><rect x="1041" y="285.5" width="8" height="8" fill="#bfbf00" stroke="#000" stroke-width="0.75"/><rect x="1062.2" y="273.8" width="8" height="8" fill="#bfbf00" stroke="#000" stroke-width="0.75"/><rect x="1081" y="265.4" width="8" height="8" fill="#bfbf00" stroke="#000" stroke-width="0.75"/><rect x="1096.2" y="259.8" width="8" height="8" fill="#bfbf00" stroke="#000" stroke-width="0.75"/><rect x="1107.7" y="255.3" width="8" height="8" fill="#bfbf00" stroke="#000" stroke-width="0.75"/><rect x="1113.8" y="253" width="8" height="8" fill="#bfbf00" stroke="#000" stroke-width="0.75"/><rect x="1117.8" y="251.9" width="8" height="8" fill="#bfbf00" stroke="#000" stroke-width="0.75"/><rect x="1120" y="251.3" width="8" height="8" fill="#bfbf00" stroke="#000" stroke-width="0.75"/><rect x="1121.4" y="251.1" width="8" height="8" fill="#bfbf00" stroke="#000" stroke-width="0.75"/><rect x="1122.3" y="251.2" width="8" height="8" fill="#bfbf00" stroke="#000" stroke-width="0.75"/><rect x="1122.8" y="251.5" width="8" height="8" fill="#bfbf00" stroke="#000" stroke-width="0.75"/><rect x="1122.8" y="252" width="8" height="8" fill="#bfbf00" stroke="#000" stroke-width="0.75"/><rect x="1123.4" y="252.7" width="8" height="8" fill="#bfbf00" stroke="#000" stroke-width="0.75"/><rect x="1123.4" y="253.6" width="8" height="8" fill="#bfbf00" stroke="#000" stroke-width="0.75"/><rect x="1123.9" y="254.8" width="8" height="8" fill="#bfbf00" stroke="#000" stroke-width="0.75"/>
<polyline points="711.5,394.2 712.5,394.2 714.2,394.2 719.2,394.2 726,394.2 734.8,394.2 745.4,394.2 758.2,394.2 773.5,394.2 794,394.2 819.2,394.2 851.4,394.2 890.8,394.2 937.3,394.2 990.1,394.2 1018.4,394.2 1029.4,394.2 1063,394.2 1093.9,394.2 1122.2,394.2 1145.8,394.2 1168,394.2 1186.8,394.2 1204.4,394.2 1217.5,394.2 1225.2,393.4 1230.8,392.4 1231.9,392 1234.7,391.8 1237,391.6 1240.7,391.5 1244.1,391.4 1248.1,391.4" fill="none" stroke="#108010" stroke-opacity="0.6" stroke-width="1.6" stroke-linejoin="round" stroke-dasharray="0.1 4.4" stroke-linecap="round"/>
<circle cx="711.5" cy="394.2" r="4.2" fill="#008000" stroke="#000" stroke-width="0.75"/><circle cx="712.5" cy="394.2" r="4.2" fill="#008000" stroke="#000" stroke-width="0.75"/><circle cx="714.2" cy="394.2" r="4.2" fill="#008000" stroke="#000" stroke-width="0.75"/><circle cx="719.2" cy="394.2" r="4.2" fill="#008000" stroke="#000" stroke-width="0.75"/><circle cx="726" cy="394.2" r="4.2" fill="#008000" stroke="#000" stroke-width="0.75"/><circle cx="734.8" cy="394.2" r="4.2" fill="#008000" stroke="#000" stroke-width="0.75"/><circle cx="745.4" cy="394.2" r="4.2" fill="#008000" stroke="#000" stroke-width="0.75"/><circle cx="758.2" cy="394.2" r="4.2" fill="#008000" stroke="#000" stroke-width="0.75"/><circle cx="773.5" cy="394.2" r="4.2" fill="#008000" stroke="#000" stroke-width="0.75"/><circle cx="794" cy="394.2" r="4.2" fill="#008000" stroke="#000" stroke-width="0.75"/><circle cx="819.2" cy="394.2" r="4.2" fill="#008000" stroke="#000" stroke-width="0.75"/><circle cx="851.4" cy="394.2" r="4.2" fill="#008000" stroke="#000" stroke-width="0.75"/><circle cx="890.8" cy="394.2" r="4.2" fill="#008000" stroke="#000" stroke-width="0.75"/><circle cx="937.3" cy="394.2" r="4.2" fill="#008000" stroke="#000" stroke-width="0.75"/><circle cx="990.1" cy="394.2" r="4.2" fill="#008000" stroke="#000" stroke-width="0.75"/><circle cx="1018.4" cy="394.2" r="4.2" fill="#008000" stroke="#000" stroke-width="0.75"/><circle cx="1029.4" cy="394.2" r="4.2" fill="#008000" stroke="#000" stroke-width="0.75"/><circle cx="1063" cy="394.2" r="4.2" fill="#008000" stroke="#000" stroke-width="0.75"/><circle cx="1093.9" cy="394.2" r="4.2" fill="#008000" stroke="#000" stroke-width="0.75"/><circle cx="1122.2" cy="394.2" r="4.2" fill="#008000" stroke="#000" stroke-width="0.75"/><circle cx="1145.8" cy="394.2" r="4.2" fill="#008000" stroke="#000" stroke-width="0.75"/><circle cx="1168" cy="394.2" r="4.2" fill="#008000" stroke="#000" stroke-width="0.75"/><circle cx="1186.8" cy="394.2" r="4.2" fill="#008000" stroke="#000" stroke-width="0.75"/><circle cx="1204.4" cy="394.2" r="4.2" fill="#008000" stroke="#000" stroke-width="0.75"/><circle cx="1217.5" cy="394.2" r="4.2" fill="#008000" stroke="#000" stroke-width="0.75"/><circle cx="1225.2" cy="393.4" r="4.2" fill="#008000" stroke="#000" stroke-width="0.75"/><circle cx="1230.8" cy="392.4" r="4.2" fill="#008000" stroke="#000" stroke-width="0.75"/><circle cx="1231.9" cy="392" r="4.2" fill="#008000" stroke="#000" stroke-width="0.75"/><circle cx="1234.7" cy="391.8" r="4.2" fill="#008000" stroke="#000" stroke-width="0.75"/><circle cx="1237" cy="391.6" r="4.2" fill="#008000" stroke="#000" stroke-width="0.75"/><circle cx="1240.7" cy="391.5" r="4.2" fill="#008000" stroke="#000" stroke-width="0.75"/><circle cx="1244.1" cy="391.4" r="4.2" fill="#008000" stroke="#000" stroke-width="0.75"/><circle cx="1248.1" cy="391.4" r="4.2" fill="#008000" stroke="#000" stroke-width="0.75"/>
<polyline points="711.5,394.2 712.5,394.2 714.2,394.2 719,394.2 725.6,394.2 734.6,394.2 745.2,394.2 758,394.2 773.1,394.2 793.9,394.2 819,394.2 844.3,394.2 879.5,394.2 917.4,394.2 959.1,394.2 1004.9,394.2 1048.1,394.2 1088.8,394.2 1125,394.2 1155,394.2 1178.1,394.2 1193.3,394.2 1200.7,394.2 1204.3,394.2 1207.5,394.2 1210.1,394.2 1211.5,394.2 1212.6,394.2 1214.6,394.2 1215.2,394.2 1216.3,394.2 1217.5,394.2" fill="none" stroke="#00bfbf" stroke-opacity="0.6" stroke-width="1.6" stroke-linejoin="round" stroke-dasharray="0.1 4.4" stroke-linecap="round"/>
<polygon points="711.5,390.8 714.9,397.6 708.1,397.6" fill="#00b4b4" stroke="#000" stroke-width="0.75"/><polygon points="712.5,390.8 715.9,397.6 709.1,397.6" fill="#00b4b4" stroke="#000" stroke-width="0.75"/><polygon points="714.2,390.8 717.6,397.6 710.8,397.6" fill="#00b4b4" stroke="#000" stroke-width="0.75"/><polygon points="719,390.8 722.4,397.6 715.6,397.6" fill="#00b4b4" stroke="#000" stroke-width="0.75"/><polygon points="725.6,390.8 729,397.6 722.2,397.6" fill="#00b4b4" stroke="#000" stroke-width="0.75"/><polygon points="734.6,390.8 738,397.6 731.2,397.6" fill="#00b4b4" stroke="#000" stroke-width="0.75"/><polygon points="745.2,390.8 748.6,397.6 741.8,397.6" fill="#00b4b4" stroke="#000" stroke-width="0.75"/><polygon points="758,390.8 761.4,397.6 754.6,397.6" fill="#00b4b4" stroke="#000" stroke-width="0.75"/><polygon points="773.1,390.8 776.5,397.6 769.7,397.6" fill="#00b4b4" stroke="#000" stroke-width="0.75"/><polygon points="793.9,390.8 797.3,397.6 790.5,397.6" fill="#00b4b4" stroke="#000" stroke-width="0.75"/><polygon points="819,390.8 822.4,397.6 815.6,397.6" fill="#00b4b4" stroke="#000" stroke-width="0.75"/><polygon points="844.3,390.8 847.7,397.6 840.9,397.6" fill="#00b4b4" stroke="#000" stroke-width="0.75"/><polygon points="879.5,390.8 882.9,397.6 876.1,397.6" fill="#00b4b4" stroke="#000" stroke-width="0.75"/><polygon points="917.4,390.8 920.8,397.6 914,397.6" fill="#00b4b4" stroke="#000" stroke-width="0.75"/><polygon points="959.1,390.8 962.5,397.6 955.7,397.6" fill="#00b4b4" stroke="#000" stroke-width="0.75"/><polygon points="1004.9,390.8 1008.3,397.6 1001.5,397.6" fill="#00b4b4" stroke="#000" stroke-width="0.75"/><polygon points="1048.1,390.8 1051.5,397.6 1044.7,397.6" fill="#00b4b4" stroke="#000" stroke-width="0.75"/><polygon points="1088.8,390.8 1092.2,397.6 1085.4,397.6" fill="#00b4b4" stroke="#000" stroke-width="0.75"/><polygon points="1125,390.8 1128.4,397.6 1121.6,397.6" fill="#00b4b4" stroke="#000" stroke-width="0.75"/><polygon points="1155,390.8 1158.4,397.6 1151.6,397.6" fill="#00b4b4" stroke="#000" stroke-width="0.75"/><polygon points="1178.1,390.8 1181.5,397.6 1174.7,397.6" fill="#00b4b4" stroke="#000" stroke-width="0.75"/><polygon points="1193.3,390.8 1196.7,397.6 1189.9,397.6" fill="#00b4b4" stroke="#000" stroke-width="0.75"/><polygon points="1200.7,390.8 1204.1,397.6 1197.3,397.6" fill="#00b4b4" stroke="#000" stroke-width="0.75"/><polygon points="1204.3,390.8 1207.7,397.6 1200.9,397.6" fill="#00b4b4" stroke="#000" stroke-width="0.75"/><polygon points="1207.5,390.8 1210.9,397.6 1204.1,397.6" fill="#00b4b4" stroke="#000" stroke-width="0.75"/><polygon points="1210.1,390.8 1213.5,397.6 1206.7,397.6" fill="#00b4b4" stroke="#000" stroke-width="0.75"/><polygon points="1211.5,390.8 1214.9,397.6 1208.1,397.6" fill="#00b4b4" stroke="#000" stroke-width="0.75"/><polygon points="1212.6,390.8 1216,397.6 1209.2,397.6" fill="#00b4b4" stroke="#000" stroke-width="0.75"/><polygon points="1214.6,390.8 1218,397.6 1211.2,397.6" fill="#00b4b4" stroke="#000" stroke-width="0.75"/><polygon points="1215.2,390.8 1218.6,397.6 1211.8,397.6" fill="#00b4b4" stroke="#000" stroke-width="0.75"/><polygon points="1216.3,390.8 1219.7,397.6 1212.9,397.6" fill="#00b4b4" stroke="#000" stroke-width="0.75"/><polygon points="1217.5,390.8 1220.9,397.6 1214.1,397.6" fill="#00b4b4" stroke="#000" stroke-width="0.75"/>
</g>
<g stroke="#222" stroke-width="1.1"><line x1="710.1" y1="481.6" x2="710.1" y2="476.1"/><line x1="710.1" y1="44.7" x2="710.1" y2="50.2"/><line x1="817.82" y1="481.6" x2="817.82" y2="476.1"/><line x1="817.82" y1="44.7" x2="817.82" y2="50.2"/><line x1="925.54" y1="481.6" x2="925.54" y2="476.1"/><line x1="925.54" y1="44.7" x2="925.54" y2="50.2"/><line x1="1033.26" y1="481.6" x2="1033.26" y2="476.1"/><line x1="1033.26" y1="44.7" x2="1033.26" y2="50.2"/><line x1="1140.98" y1="481.6" x2="1140.98" y2="476.1"/><line x1="1140.98" y1="44.7" x2="1140.98" y2="50.2"/><line x1="1248.7" y1="481.6" x2="1248.7" y2="476.1"/><line x1="1248.7" y1="44.7" x2="1248.7" y2="50.2"/><line x1="710.1" y1="481.6" x2="715.6" y2="481.6"/><line x1="1275.6" y1="481.6" x2="1270.1" y2="481.6"/><line x1="710.1" y1="394.22" x2="715.6" y2="394.22"/><line x1="1275.6" y1="394.22" x2="1270.1" y2="394.22"/><line x1="710.1" y1="306.84" x2="715.6" y2="306.84"/><line x1="1275.6" y1="306.84" x2="1270.1" y2="306.84"/><line x1="710.1" y1="219.46" x2="715.6" y2="219.46"/><line x1="1275.6" y1="219.46" x2="1270.1" y2="219.46"/><line x1="710.1" y1="132.08" x2="715.6" y2="132.08"/><line x1="1275.6" y1="132.08" x2="1270.1" y2="132.08"/><line x1="710.1" y1="44.7" x2="715.6" y2="44.7"/><line x1="1275.6" y1="44.7" x2="1270.1" y2="44.7"/></g>
<rect x="710.1" y="44.7" width="565.5" height="436.9" fill="none" stroke="#333" stroke-width="1.5"/>
<rect x="494.9" y="60" width="118.7" height="147.5" fill="#fff" stroke="#333" stroke-width="1.5" rx="1"/>
<polyline points="508.6,75.6 538.1,75.6" fill="none" stroke="#0000ff" stroke-opacity="0.75" stroke-width="2.0" stroke-linejoin="round"/>
<polygon points="508.6,72.8 511.26,74.73 510.25,77.87 506.95,77.87 505.94,74.73" fill="#0000a0" stroke="#000" stroke-width="0.75"/>
<polygon points="538.1,72.8 540.76,74.73 539.75,77.87 536.45,77.87 535.44,74.73" fill="#0000a0" stroke="#000" stroke-width="0.75"/>
<text x="560.8" y="81.8" font-family="Liberation Serif" font-size="19" fill="#111" stroke="#111" stroke-width="0.3" textLength="18.6" lengthAdjust="spacingAndGlyphs">50</text>
<text x="581.4" y="79.4" font-family="Liberation Serif" font-size="14.5" fill="#111" stroke="#111" stroke-width="0.2">°</text>
<text transform="translate(587.6,81.8) skewX(-10)" font-family="Liberation Serif" font-style="italic" font-size="19.5" fill="#111" stroke="#111" stroke-width="0.3" textLength="14.0" lengthAdjust="spacingAndGlyphs">C</text>
<polyline points="508.6,104.02 538.1,104.02" fill="none" stroke="#ff0000" stroke-opacity="0.65" stroke-width="2.0" stroke-linejoin="round"/>
<polygon points="508.6,99.02 513.6,104.02 508.6,109.02 503.6,104.02" fill="#ff0000" stroke="#000" stroke-width="0.75"/>
<polygon points="538.1,99.02 543.1,104.02 538.1,109.02 533.1,104.02" fill="#ff0000" stroke="#000" stroke-width="0.75"/>
<text x="560.8" y="110.22" font-family="Liberation Serif" font-size="19" fill="#111" stroke="#111" stroke-width="0.3" textLength="18.6" lengthAdjust="spacingAndGlyphs">60</text>
<text x="581.4" y="107.82" font-family="Liberation Serif" font-size="14.5" fill="#111" stroke="#111" stroke-width="0.2">°</text>
<text transform="translate(587.6,110.22) skewX(-10)" font-family="Liberation Serif" font-style="italic" font-size="19.5" fill="#111" stroke="#111" stroke-width="0.3" textLength="14.0" lengthAdjust="spacingAndGlyphs">C</text>
<polyline points="508.6,132.44 538.1,132.44" fill="none" stroke="#bfbf00" stroke-opacity="0.6" stroke-width="2.0" stroke-linejoin="round"/>
<rect x="505.3" y="129.14" width="6.6" height="6.6" fill="#bfbf00" stroke="#000" stroke-width="0.75"/>
<rect x="534.8" y="129.14" width="6.6" height="6.6" fill="#bfbf00" stroke="#000" stroke-width="0.75"/>
<text x="560.8" y="138.64" font-family="Liberation Serif" font-size="19" fill="#111" stroke="#111" stroke-width="0.3" textLength="18.6" lengthAdjust="spacingAndGlyphs">70</text>
<text x="581.4" y="136.24" font-family="Liberation Serif" font-size="14.5" fill="#111" stroke="#111" stroke-width="0.2">°</text>
<text transform="translate(587.6,138.64) skewX(-10)" font-family="Liberation Serif" font-style="italic" font-size="19.5" fill="#111" stroke="#111" stroke-width="0.3" textLength="14.0" lengthAdjust="spacingAndGlyphs">C</text>
<polyline points="508.6,160.86 538.1,160.86" fill="none" stroke="#008000" stroke-opacity="0.65" stroke-width="2.0" stroke-linejoin="round"/>
<circle cx="508.6" cy="160.86" r="3.8" fill="#008000" stroke="#000" stroke-width="0.75"/>
<circle cx="538.1" cy="160.86" r="3.8" fill="#008000" stroke="#000" stroke-width="0.75"/>
<text x="560.8" y="167.06" font-family="Liberation Serif" font-size="19" fill="#111" stroke="#111" stroke-width="0.3" textLength="18.6" lengthAdjust="spacingAndGlyphs">80</text>
<text x="581.4" y="164.66" font-family="Liberation Serif" font-size="14.5" fill="#111" stroke="#111" stroke-width="0.2">°</text>
<text transform="translate(587.6,167.06) skewX(-10)" font-family="Liberation Serif" font-style="italic" font-size="19.5" fill="#111" stroke="#111" stroke-width="0.3" textLength="14.0" lengthAdjust="spacingAndGlyphs">C</text>
<polyline points="508.6,189.28 538.1,189.28" fill="none" stroke="#00bfbf" stroke-opacity="0.5" stroke-width="2.0" stroke-linejoin="round"/>
<polygon points="508.6,186.08 511.8,192.48 505.4,192.48" fill="#00b4b4" stroke="#000" stroke-width="0.75"/>
<polygon points="538.1,186.08 541.3,192.48 534.9,192.48" fill="#00b4b4" stroke="#000" stroke-width="0.75"/>
<text x="560.8" y="195.48" font-family="Liberation Serif" font-size="19" fill="#111" stroke="#111" stroke-width="0.3" textLength="18.6" lengthAdjust="spacingAndGlyphs">90</text>
<text x="581.4" y="193.08" font-family="Liberation Serif" font-size="14.5" fill="#111" stroke="#111" stroke-width="0.2">°</text>
<text transform="translate(587.6,195.48) skewX(-10)" font-family="Liberation Serif" font-style="italic" font-size="19.5" fill="#111" stroke="#111" stroke-width="0.3" textLength="14.0" lengthAdjust="spacingAndGlyphs">C</text>
<rect x="720.4" y="54.8" width="118.4" height="146.9" fill="#fff" stroke="#333" stroke-width="1.5" rx="1"/>
<polyline points="734.8,70.4 763.2,70.4" fill="none" stroke="#2828b0" stroke-opacity="0.6" stroke-width="1.6" stroke-linejoin="round" stroke-dasharray="0.1 4.4" stroke-linecap="round"/>
<polygon points="734.8,67.6 737.46,69.53 736.45,72.67 733.15,72.67 732.14,69.53" fill="#0000a0" stroke="#000" stroke-width="0.75"/>
<polygon points="763.2,67.6 765.86,69.53 764.85,72.67 761.55,72.67 760.54,69.53" fill="#0000a0" stroke="#000" stroke-width="0.75"/>
<text x="786" y="76.6" font-family="Liberation Serif" font-size="19" fill="#111" stroke="#111" stroke-width="0.3" textLength="18.6" lengthAdjust="spacingAndGlyphs">50</text>
<text x="806.6" y="74.2" font-family="Liberation Serif" font-size="14.5" fill="#111" stroke="#111" stroke-width="0.2">°</text>
<text transform="translate(812.8,76.6) skewX(-10)" font-family="Liberation Serif" font-style="italic" font-size="19.5" fill="#111" stroke="#111" stroke-width="0.3" textLength="14.0" lengthAdjust="spacingAndGlyphs">C</text>
<polyline points="734.8,98.82 763.2,98.82" fill="none" stroke="#ff0000" stroke-opacity="0.6" stroke-width="1.6" stroke-linejoin="round" stroke-dasharray="0.1 4.4" stroke-linecap="round"/>
<polygon points="734.8,93.82 739.8,98.82 734.8,103.82 729.8,98.82" fill="#ff0000" stroke="#000" stroke-width="0.75"/>
<polygon points="763.2,93.82 768.2,98.82 763.2,103.82 758.2,98.82" fill="#ff0000" stroke="#000" stroke-width="0.75"/>
<text x="786" y="105.02" font-family="Liberation Serif" font-size="19" fill="#111" stroke="#111" stroke-width="0.3" textLength="18.6" lengthAdjust="spacingAndGlyphs">60</text>
<text x="806.6" y="102.62" font-family="Liberation Serif" font-size="14.5" fill="#111" stroke="#111" stroke-width="0.2">°</text>
<text transform="translate(812.8,105.02) skewX(-10)" font-family="Liberation Serif" font-style="italic" font-size="19.5" fill="#111" stroke="#111" stroke-width="0.3" textLength="14.0" lengthAdjust="spacingAndGlyphs">C</text>
<polyline points="734.8,127.24 763.2,127.24" fill="none" stroke="#bfbf00" stroke-opacity="0.6" stroke-width="1.6" stroke-linejoin="round" stroke-dasharray="0.1 4.4" stroke-linecap="round"/>
<rect x="731.5" y="123.94" width="6.6" height="6.6" fill="#bfbf00" stroke="#000" stroke-width="0.75"/>
<rect x="759.9" y="123.94" width="6.6" height="6.6" fill="#bfbf00" stroke="#000" stroke-width="0.75"/>
<text x="786" y="133.44" font-family="Liberation Serif" font-size="19" fill="#111" stroke="#111" stroke-width="0.3" textLength="18.6" lengthAdjust="spacingAndGlyphs">70</text>
<text x="806.6" y="131.04" font-family="Liberation Serif" font-size="14.5" fill="#111" stroke="#111" stroke-width="0.2">°</text>
<text transform="translate(812.8,133.44) skewX(-10)" font-family="Liberation Serif" font-style="italic" font-size="19.5" fill="#111" stroke="#111" stroke-width="0.3" textLength="14.0" lengthAdjust="spacingAndGlyphs">C</text>
<polyline points="734.8,155.66 763.2,155.66" fill="none" stroke="#108010" stroke-opacity="0.6" stroke-width="1.6" stroke-linejoin="round" stroke-dasharray="0.1 4.4" stroke-linecap="round"/>
<circle cx="734.8" cy="155.66" r="3.8" fill="#008000" stroke="#000" stroke-width="0.75"/>
<circle cx="763.2" cy="155.66" r="3.8" fill="#008000" stroke="#000" stroke-width="0.75"/>
<text x="786" y="161.86" font-family="Liberation Serif" font-size="19" fill="#111" stroke="#111" stroke-width="0.3" textLength="18.6" lengthAdjust="spacingAndGlyphs">80</text>
<text x="806.6" y="159.46" font-family="Liberation Serif" font-size="14.5" fill="#111" stroke="#111" stroke-width="0.2">°</text>
<text transform="translate(812.8,161.86) skewX(-10)" font-family="Liberation Serif" font-style="italic" font-size="19.5" fill="#111" stroke="#111" stroke-width="0.3" textLength="14.0" lengthAdjust="spacingAndGlyphs">C</text>
<polyline points="734.8,184.08 763.2,184.08" fill="none" stroke="#00bfbf" stroke-opacity="0.6" stroke-width="1.6" stroke-linejoin="round" stroke-dasharray="0.1 4.4" stroke-linecap="round"/>
<polygon points="734.8,180.88 738,187.28 731.6,187.28" fill="#00b4b4" stroke="#000" stroke-width="0.75"/>
<polygon points="763.2,180.88 766.4,187.28 760,187.28" fill="#00b4b4" stroke="#000" stroke-width="0.75"/>
<text x="786" y="190.28" font-family="Liberation Serif" font-size="19" fill="#111" stroke="#111" stroke-width="0.3" textLength="18.6" lengthAdjust="spacingAndGlyphs">90</text>
<text x="806.6" y="187.88" font-family="Liberation Serif" font-size="14.5" fill="#111" stroke="#111" stroke-width="0.2">°</text>
<text transform="translate(812.8,190.28) skewX(-10)" font-family="Liberation Serif" font-style="italic" font-size="19.5" fill="#111" stroke="#111" stroke-width="0.3" textLength="14.0" lengthAdjust="spacingAndGlyphs">C</text>
<text x="57.6" y="504.7" font-family="Liberation Sans" font-size="16.2" text-anchor="middle" stroke="#222" stroke-width="0.6" textLength="23.6" lengthAdjust="spacingAndGlyphs" fill="#222">0.0</text>
<text x="710.1" y="499.4" font-family="Liberation Sans" font-size="16.2" text-anchor="middle" stroke="#222" stroke-width="0.6" textLength="23.6" lengthAdjust="spacingAndGlyphs" fill="#222">0.0</text>
<text x="165.32" y="504.7" font-family="Liberation Sans" font-size="16.2" text-anchor="middle" stroke="#222" stroke-width="0.6" textLength="23.6" lengthAdjust="spacingAndGlyphs" fill="#222">0.2</text>
<text x="817.82" y="499.4" font-family="Liberation Sans" font-size="16.2" text-anchor="middle" stroke="#222" stroke-width="0.6" textLength="23.6" lengthAdjust="spacingAndGlyphs" fill="#222">0.2</text>
<text x="273.04" y="504.7" font-family="Liberation Sans" font-size="16.2" text-anchor="middle" stroke="#222" stroke-width="0.6" textLength="23.6" lengthAdjust="spacingAndGlyphs" fill="#222">0.4</text>
<text x="925.54" y="499.4" font-family="Liberation Sans" font-size="16.2" text-anchor="middle" stroke="#222" stroke-width="0.6" textLength="23.6" lengthAdjust="spacingAndGlyphs" fill="#222">0.4</text>
<text x="380.76" y="504.7" font-family="Liberation Sans" font-size="16.2" text-anchor="middle" stroke="#222" stroke-width="0.6" textLength="23.6" lengthAdjust="spacingAndGlyphs" fill="#222">0.6</text>
<text x="1033.26" y="499.4" font-family="Liberation Sans" font-size="16.2" text-anchor="middle" stroke="#222" stroke-width="0.6" textLength="23.6" lengthAdjust="spacingAndGlyphs" fill="#222">0.6</text>
<text x="488.48" y="504.7" font-family="Liberation Sans" font-size="16.2" text-anchor="middle" stroke="#222" stroke-width="0.6" textLength="23.6" lengthAdjust="spacingAndGlyphs" fill="#222">0.8</text>
<text x="1140.98" y="499.4" font-family="Liberation Sans" font-size="16.2" text-anchor="middle" stroke="#222" stroke-width="0.6" textLength="23.6" lengthAdjust="spacingAndGlyphs" fill="#222">0.8</text>
<text x="596.2" y="504.7" font-family="Liberation Sans" font-size="16.2" text-anchor="middle" stroke="#222" stroke-width="0.6" textLength="23.6" lengthAdjust="spacingAndGlyphs" fill="#222">1.0</text>
<text x="1248.7" y="499.4" font-family="Liberation Sans" font-size="16.2" text-anchor="middle" stroke="#222" stroke-width="0.6" textLength="23.6" lengthAdjust="spacingAndGlyphs" fill="#222">1.0</text>
<text x="52" y="490.77" font-family="Liberation Sans" font-size="16.2" text-anchor="end" stroke="#222" stroke-width="0.6" textLength="23.6" lengthAdjust="spacingAndGlyphs" fill="#222">0.1</text>
<text x="52" y="442.24" font-family="Liberation Sans" font-size="16.2" text-anchor="end" stroke="#222" stroke-width="0.6" textLength="23.6" lengthAdjust="spacingAndGlyphs" fill="#222">0.2</text>
<text x="52" y="393.71" font-family="Liberation Sans" font-size="16.2" text-anchor="end" stroke="#222" stroke-width="0.6" textLength="23.6" lengthAdjust="spacingAndGlyphs" fill="#222">0.3</text>
<text x="52" y="345.18" font-family="Liberation Sans" font-size="16.2" text-anchor="end" stroke="#222" stroke-width="0.6" textLength="23.6" lengthAdjust="spacingAndGlyphs" fill="#222">0.4</text>
<text x="52" y="296.65" font-family="Liberation Sans" font-size="16.2" text-anchor="end" stroke="#222" stroke-width="0.6" textLength="23.6" lengthAdjust="spacingAndGlyphs" fill="#222">0.5</text>
<text x="52" y="248.12" font-family="Liberation Sans" font-size="16.2" text-anchor="end" stroke="#222" stroke-width="0.6" textLength="23.6" lengthAdjust="spacingAndGlyphs" fill="#222">0.6</text>
<text x="52" y="199.59" font-family="Liberation Sans" font-size="16.2" text-anchor="end" stroke="#222" stroke-width="0.6" textLength="23.6" lengthAdjust="spacingAndGlyphs" fill="#222">0.7</text>
<text x="52" y="151.06" font-family="Liberation Sans" font-size="16.2" text-anchor="end" stroke="#222" stroke-width="0.6" textLength="23.6" lengthAdjust="spacingAndGlyphs" fill="#222">0.8</text>
<text x="52" y="102.53" font-family="Liberation Sans" font-size="16.2" text-anchor="end" stroke="#222" stroke-width="0.6" textLength="23.6" lengthAdjust="spacingAndGlyphs" fill="#222">0.9</text>
<text x="52" y="54" font-family="Liberation Sans" font-size="16.2" text-anchor="end" stroke="#222" stroke-width="0.6" textLength="23.6" lengthAdjust="spacingAndGlyphs" fill="#222">1.0</text>
<text x="703.2" y="486.2" font-family="Liberation Sans" font-size="16.2" text-anchor="end" stroke="#222" stroke-width="0.6" textLength="35.4" lengthAdjust="spacingAndGlyphs" fill="#222">−0.5</text>
<text x="703.2" y="398.82" font-family="Liberation Sans" font-size="16.2" text-anchor="end" stroke="#222" stroke-width="0.6" textLength="23.6" lengthAdjust="spacingAndGlyphs" fill="#222">0.0</text>
<text x="703.2" y="311.44" font-family="Liberation Sans" font-size="16.2" text-anchor="end" stroke="#222" stroke-width="0.6" textLength="23.6" lengthAdjust="spacingAndGlyphs" fill="#222">0.5</text>
<text x="703.2" y="224.06" font-family="Liberation Sans" font-size="16.2" text-anchor="end" stroke="#222" stroke-width="0.6" textLength="23.6" lengthAdjust="spacingAndGlyphs" fill="#222">1.0</text>
<text x="703.2" y="136.68" font-family="Liberation Sans" font-size="16.2" text-anchor="end" stroke="#222" stroke-width="0.6" textLength="23.6" lengthAdjust="spacingAndGlyphs" fill="#222">1.5</text>
<text x="703.2" y="49.3" font-family="Liberation Sans" font-size="16.2" text-anchor="end" stroke="#222" stroke-width="0.6" textLength="23.6" lengthAdjust="spacingAndGlyphs" fill="#222">2.0</text>
<text x="121" y="21.9" font-family="Liberation Sans" font-size="20.6" text-anchor="start" stroke="#222" stroke-width="0.6" textLength="432" lengthAdjust="spacingAndGlyphs" fill="#222">The effect of temperature on performance</text>
<text x="211" y="42.5" font-family="Liberation Sans" font-size="20.6" text-anchor="start" stroke="#222" stroke-width="0.6" textLength="258.8" lengthAdjust="spacingAndGlyphs" fill="#222">at 90%RH with Toray 090</text>
<text x="775.6" y="16.3" font-family="Liberation Sans" font-size="20.6" text-anchor="start" stroke="#222" stroke-width="0.6" textLength="427.2" lengthAdjust="spacingAndGlyphs" fill="#222">Liquid water flux at the cathode boundary</text>
<text x="870.3" y="37.5" font-family="Liberation Sans" font-size="20.6" text-anchor="start" stroke="#222" stroke-width="0.6" textLength="245.6" lengthAdjust="spacingAndGlyphs" fill="#222">at various temperatures</text>
<text x="216" y="533.1" font-family="Liberation Sans" font-size="20.2" text-anchor="start" stroke="#222" stroke-width="0.6" textLength="164.8" lengthAdjust="spacingAndGlyphs" fill="#222">Cathode current</text>
<text x="388.2" y="533.3" font-family="Liberation Serif" font-size="21" fill="#222" stroke="#222" stroke-width="0.4">[</text>
<text x="397.6" y="533.1" font-family="Liberation Serif" font-size="19.5" font-style="italic" fill="#222" stroke="#222" stroke-width="0.4" textLength="13.2" lengthAdjust="spacingAndGlyphs">A</text>
<text x="412.6" y="536.9" font-family="Liberation Serif" font-size="24" font-style="italic" fill="#222" stroke="#222" stroke-width="0.4">/</text>
<text x="421.8" y="533.1" font-family="Liberation Serif" font-size="20" font-style="italic" fill="#222" stroke="#222" stroke-width="0.4" textLength="26" lengthAdjust="spacingAndGlyphs">cm</text>
<text x="449" y="525.1" font-family="Liberation Serif" font-size="14.5" fill="#222" stroke="#222" stroke-width="0.4">2</text>
<text x="458.2" y="533.3" font-family="Liberation Serif" font-size="21" fill="#222" stroke="#222" stroke-width="0.4">]</text>
<text x="868.7" y="527.7" font-family="Liberation Sans" font-size="20.2" text-anchor="start" stroke="#222" stroke-width="0.6" textLength="164.8" lengthAdjust="spacingAndGlyphs" fill="#222">Cathode current</text>
<text x="1040.9" y="527.9" font-family="Liberation Serif" font-size="21" fill="#222" stroke="#222" stroke-width="0.4">[</text>
<text x="1050.3" y="527.7" font-family="Liberation Serif" font-size="19.5" font-style="italic" fill="#222" stroke="#222" stroke-width="0.4" textLength="13.2" lengthAdjust="spacingAndGlyphs">A</text>
<text x="1065.3" y="531.5" font-family="Liberation Serif" font-size="24" font-style="italic" fill="#222" stroke="#222" stroke-width="0.4">/</text>
<text x="1074.5" y="527.7" font-family="Liberation Serif" font-size="20" font-style="italic" fill="#222" stroke="#222" stroke-width="0.4" textLength="26" lengthAdjust="spacingAndGlyphs">cm</text>
<text x="1101.7" y="519.7" font-family="Liberation Serif" font-size="14.5" fill="#222" stroke="#222" stroke-width="0.4">2</text>
<text x="1110.9" y="527.9" font-family="Liberation Serif" font-size="21" fill="#222" stroke="#222" stroke-width="0.4">]</text>
<text transform="translate(17.6,347.3) rotate(-90)" font-family="Liberation Sans" font-size="20.2" fill="#222" stroke="#222" stroke-width="0.6" textLength="155.5" lengthAdjust="spacingAndGlyphs">Cell voltage [V]</text>
<text transform="translate(653.6,399.6) rotate(-90)" font-family="Liberation Sans" font-size="20.2" fill="#222" stroke="#222" stroke-width="0.6" textLength="250" lengthAdjust="spacingAndGlyphs">Normalized water flux</text>
<text transform="translate(652.6,141.5) rotate(-90)" font-family="Liberation Serif" font-style="italic" font-size="19" fill="#777" textLength="12.5" lengthAdjust="spacingAndGlyphs">β</text>
<text x="76.0" y="472.4" font-family="Liberation Sans" font-weight="bold" font-size="28" fill="#000" textLength="29.2" lengthAdjust="spacingAndGlyphs">a)</text>
<text x="726.2" y="472.4" font-family="Liberation Sans" font-weight="bold" font-size="28" fill="#000" textLength="28.0" lengthAdjust="spacingAndGlyphs">b)</text>
</g>
</svg>
</body></html>
